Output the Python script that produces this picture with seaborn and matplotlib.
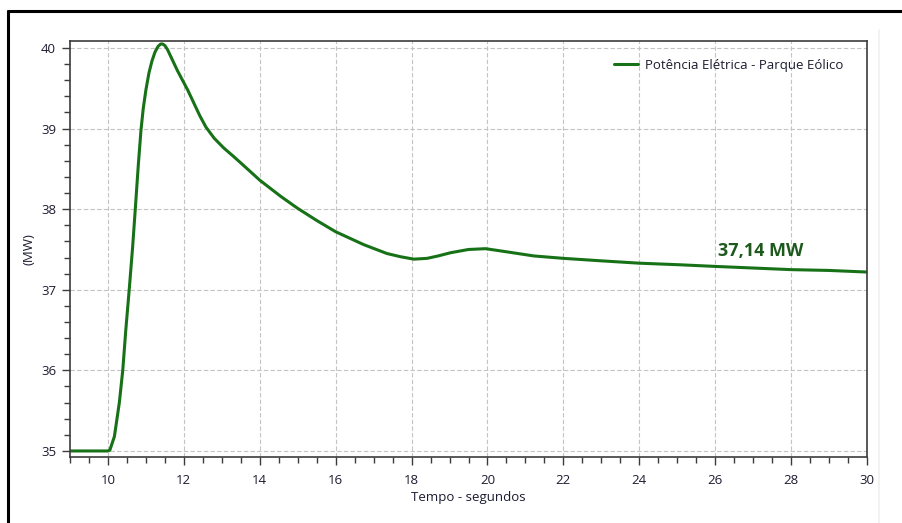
import matplotlib
matplotlib.use("Agg")
import matplotlib.pyplot as plt
from matplotlib.lines import Line2D
from matplotlib.ticker import MultipleLocator
import pandas as pd
import seaborn as sns

# time (s) and electrical power of the wind farm (MW)
tempo = [9.0, 10.0, 10.05, 10.17, 10.30, 10.39, 10.47, 10.56, 10.65, 10.72,
         10.80, 10.87, 10.93, 11.0, 11.08, 11.16, 11.24, 11.32, 11.39, 11.44,
         11.5, 11.57, 11.65, 11.74, 11.83, 11.92, 12.1, 12.27, 12.42, 12.58,
         12.8, 13.05, 13.32, 13.65, 14.0, 14.55, 15.0, 15.5, 16.0, 16.74,
         17.35, 17.71, 18.06, 18.41, 18.7, 19.03, 19.5, 19.95, 20.52, 21.22,
         22.0, 22.97, 24.0, 25.08, 26.0, 27.0, 28.0, 29.0, 30.0]
potencia = [35.0, 35.0, 35.01, 35.18, 35.60, 36.0, 36.5, 37.0, 37.53, 38.0,
            38.55, 38.98, 39.25, 39.48, 39.69, 39.84, 39.95, 40.02, 40.05, 40.05,
            40.03, 39.98, 39.90, 39.81, 39.72, 39.64, 39.48, 39.31, 39.16, 39.02,
            38.88, 38.76, 38.65, 38.51, 38.36, 38.16, 38.01, 37.86, 37.72, 37.56,
            37.45, 37.41, 37.38, 37.39, 37.42, 37.46, 37.50, 37.51, 37.47, 37.42,
            37.39, 37.36, 37.33, 37.31, 37.29, 37.27, 37.25, 37.24, 37.22]
serie = "Potência Elétrica - Parque Eólico"
anotacao = "37,14 MW"

df = pd.DataFrame({"Tempo": tempo, "Potencia": potencia, "serie": serie})

sns.set_style("white")
plt.rcParams["font.family"] = ["Open Sans", "DejaVu Sans"]
text_color = "#1c1c30"

fig = plt.figure(figsize=(9.02, 5.23), dpi=100)
ax = fig.add_axes([70 / 902, 1 - 457 / 523, 797 / 902, 416 / 523])

sns.lineplot(data=df, x="Tempo", y="Potencia", hue="serie",
             palette=["#177217"], linewidth=2.2, ax=ax)

ax.set_xlim(9, 30)
ax.set_ylim(34.925, 40.087)
ax.xaxis.set_major_locator(MultipleLocator(2))
ax.xaxis.set_minor_locator(MultipleLocator(0.5))
ax.yaxis.set_major_locator(MultipleLocator(1))
ax.yaxis.set_minor_locator(MultipleLocator(0.2))
ax.set_xticks(range(10, 31, 2))

ax.grid(True, which="major", color="#c4c4c4", linestyle=(0, (4, 2)), linewidth=0.8)
ax.set_axisbelow(True)
for s in ax.spines.values():
    s.set_color("#3c3c3c")
    s.set_linewidth(1.2)

ax.tick_params(axis="both", which="major", direction="out", length=6, width=1,
               color="#3c3c3c", labelsize=9.5, labelcolor=text_color, pad=4)
ax.tick_params(axis="x", which="major", pad=6)
ax.tick_params(axis="both", which="minor", direction="out", length=4, width=1,
               color="#3c3c3c")
ax.tick_params(axis="x", which="both", bottom=True)
ax.tick_params(axis="y", which="both", left=True)

ax.set_xlabel("Tempo - segundos", fontsize=9.5, color=text_color, labelpad=3)
ax.set_ylabel("(MW)", fontsize=9.5, color=text_color, labelpad=4)

leg = ax.legend(loc="upper right", frameon=False, fontsize=9.5,
                handlelength=1.8, handletextpad=0.5,
                bbox_to_anchor=(0.985, 0.985))
for t in leg.get_texts():
    t.set_color(text_color)

ax.text(26.08, 37.48, anotacao, fontsize=13, fontweight="bold",
        color="#1e5a1e", va="center", ha="left")

# black screenshot frame (top and left) and the faint right edge
fig.add_artist(Line2D([8 / 902, 8 / 902], [0, 1 - 11 / 523],
                      transform=fig.transFigure, color="black", linewidth=2.2))
fig.add_artist(Line2D([8 / 902, 1], [1 - 11 / 523, 1 - 11 / 523],
                      transform=fig.transFigure, color="black", linewidth=2.2))
fig.add_artist(Line2D([879 / 902, 879 / 902], [0, 1 - 30 / 523],
                      transform=fig.transFigure, color="#f0f0f0", linewidth=1.2))

fig.savefig("out.png", dpi=100)
